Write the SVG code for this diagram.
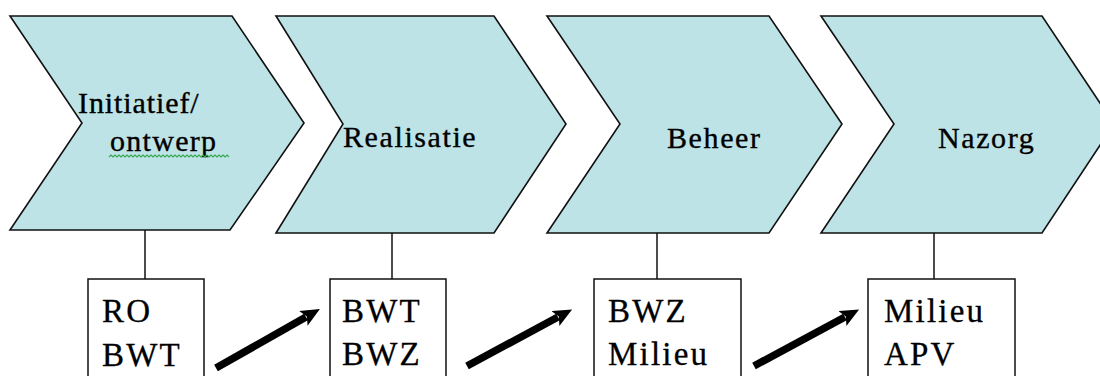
<svg xmlns="http://www.w3.org/2000/svg" width="1100" height="376" viewBox="0 0 1100 376">
<style>
.chev{fill:#bde3e6;stroke:#111;stroke-width:1.6;stroke-linejoin:miter}
.box{fill:#fff;stroke:#111;stroke-width:1.5}
.lbl{font-family:"Liberation Serif","Times New Roman",serif;font-size:30px;fill:#000;stroke:#000;stroke-width:0.35px;letter-spacing:1.6px}
.btx{font-family:"Liberation Serif","Times New Roman",serif;font-size:33px;fill:#000;stroke:#000;stroke-width:0.3px;letter-spacing:2.2px}
.link{stroke:#111;stroke-width:1.5;fill:none}
.arr{stroke:#000;stroke-width:7.5;fill:none;stroke-linecap:butt}
</style>
<defs>
<marker id="head" markerUnits="userSpaceOnUse" viewBox="0 0 19 17" markerWidth="19" markerHeight="17" refX="3" refY="8.5" orient="auto">
<path d="M0,0 L19,8.5 L0,17 L4,8.5 Z" fill="#000"/>
</marker>
</defs>
<rect width="1100" height="376" fill="#fff"/>
<g id="connectors">
<line class="link" x1="145" y1="230" x2="145" y2="279"/>
<line class="link" x1="392" y1="233" x2="392" y2="279"/>
<line class="link" x1="657" y1="233" x2="657" y2="279"/>
<line class="link" x1="934" y1="233" x2="934" y2="279"/>
<line class="arr" x1="216" y1="368" x2="306" y2="317" marker-end="url(#head)"/>
<line class="arr" x1="467" y1="366" x2="558" y2="317" marker-end="url(#head)"/>
<line class="arr" x1="754" y1="366" x2="845" y2="317" marker-end="url(#head)"/>
</g>
<g id="phase-initiatief">
<path class="chev" d="M10,16 L232,16 L304,123 L230,230 L10,230 L82,123 Z"/>
<text class="lbl" x="78" y="113" style="letter-spacing:0.9px">Initiatief/</text>
<text class="lbl" x="110" y="151" style="letter-spacing:1.3px">ontwerp</text>
<path d="M109,157 l2,-2 2,2 2,-2 2,2 2,-2 2,2 2,-2 2,2 2,-2 2,2 2,-2 2,2 2,-2 2,2 2,-2 2,2 2,-2 2,2 2,-2 2,2 2,-2 2,2 2,-2 2,2 2,-2 2,2 2,-2 2,2 2,-2 2,2 2,-2 2,2 2,-2 2,2 2,-2 2,2 2,-2 2,2 2,-2 2,2 2,-2 2,2 2,-2 2,2 2,-2 2,2 2,-2 2,2 2,-2 2,2 2,-2 2,2 2,-2 2,2 2,-2 2,2 2,-2 2,2 2,-2 2,2" fill="none" stroke="#3aa84e" stroke-width="1.2"/>
</g>
<g id="phase-realisatie">
<path class="chev" d="M276,16 L494,16 L566,124 L494,233 L276,233 L343,124 Z"/>
<text class="lbl" x="343" y="147">Realisatie</text>
</g>
<g id="phase-beheer">
<path class="chev" d="M547,16 L769,16 L842,124 L769,233 L547,233 L620,124 Z"/>
<text class="lbl" x="667" y="148">Beheer</text>
</g>
<g id="phase-nazorg">
<path class="chev" d="M821,16 L1042,16 L1114,124 L1042,233 L821,233 L894,124 Z"/>
<text class="lbl" x="938" y="148">Nazorg</text>
</g>
<g id="box-1">
<rect class="box" x="88" y="279" width="116" height="110"/>
<text class="btx" x="102" y="322">RO</text>
<text class="btx" x="102" y="366">BWT</text>
</g>
<g id="box-2">
<rect class="box" x="330" y="279" width="116" height="110"/>
<text class="btx" x="342" y="322">BWT</text>
<text class="btx" x="342" y="365">BWZ</text>
</g>
<g id="box-3">
<rect class="box" x="594" y="279" width="147" height="110"/>
<text class="btx" x="608" y="322">BWZ</text>
<text class="btx" x="608" y="365">Milieu</text>
</g>
<g id="box-4">
<rect class="box" x="868" y="279" width="147" height="110"/>
<text class="btx" x="884" y="322">Milieu</text>
<text class="btx" x="884" y="365">APV</text>
</g>
</svg>
